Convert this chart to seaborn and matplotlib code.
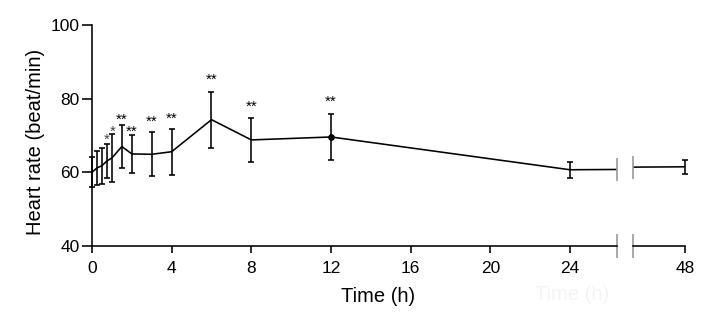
import numpy as np
import pandas as pd
import matplotlib
matplotlib.use("Agg")
import matplotlib.pyplot as plt
import seaborn as sns

# ---- data ----
time_h = [0, 0.25, 0.5, 0.75, 1, 1.5, 2, 3, 4, 6, 8, 12, 24, 48]
heart_rate = [60.0, 61.2, 61.8, 63.1, 63.9, 67.0, 65.0, 64.9, 65.6, 74.3, 68.8, 69.6, 60.7, 61.5]
heart_rate_sd = [4.1, 4.7, 4.9, 4.7, 6.6, 5.9, 5.1, 6.0, 6.3, 7.6, 5.9, 6.35, 2.2, 1.9]

star_time = [0.72, 1.04, 1.5, 2, 3, 4, 6, 8, 12]
star_label = ["*", "*", "**", "**", "**", "**", "**", "**", "**"]
star_level = [70.1, 72.3, 75.6, 72.3, 75.0, 75.8, 86.5, 79.0, 80.4]

x_ticks_left = [0, 4, 8, 12, 16, 20, 24]
x_ticks_right = [48]
y_ticks = [40, 60, 80, 100]

df = pd.DataFrame({"time": time_h, "hr": heart_rate, "sd": heart_rate_sd})

sns.set_style("ticks")
plt.rcParams["font.family"] = ["Liberation Sans", "DejaVu Sans"]

W, H = 718, 315
fig = plt.figure(figsize=(W / 100, H / 100), dpi=100)

px_per_h = (570 - 92) / 24.0
left_xmax = (617 - 92) / px_per_h
right_xmin = 48 - (685 - 633) / px_per_h

ax1 = fig.add_axes([92 / W, 1 - 246 / H, (617 - 92) / W, (246 - 25) / H])
ax2 = fig.add_axes([633 / W, 1 - 246 / H, (685 - 633) / W, (246 - 25) / H])

lw = 1.15
for ax, lo, hi in ((ax1, 0, left_xmax), (ax2, right_xmin, 48)):
    sns.lineplot(data=df, x="time", y="hr", ax=ax, color="black", linewidth=lw,
                 estimator=None, sort=True)
    sub = df[(df["time"] >= lo) & (df["time"] <= hi)]
    eb = ax.errorbar(sub["time"], sub["hr"], yerr=sub["sd"], fmt="none", ecolor="black",
                     elinewidth=lw, capsize=2, capthick=lw)
    for art in list(eb.lines[1]) + list(eb.lines[2]):
        art.set_clip_on(False)
    ax.set_ylim(40, 100)
    ax.set_xlim(lo, hi)
    ax.set_xlabel("")
    ax.set_ylabel("")
    ax.set_facecolor("white")

# filled marker at 12 h
idx12 = time_h.index(12)
ax1.plot([time_h[idx12]], [heart_rate[idx12]], marker="o", markersize=3.8,
         color="black", linestyle="none")

ax1.set_xticks(x_ticks_left)
ax1.set_yticks(y_ticks)
ax2.set_xticks(x_ticks_right)
ax2.set_yticks([])

for sp in ["top", "right"]:
    ax1.spines[sp].set_visible(False)
for sp in ["top", "right", "left"]:
    ax2.spines[sp].set_visible(False)
for ax in (ax1, ax2):
    for sp in ax.spines.values():
        sp.set_linewidth(lw)
        sp.set_color("black")
    ax.tick_params(axis="x", length=5.3, width=lw, pad=5.5, labelsize=12.5,
                   colors="black", direction="out")
ax1.tick_params(axis="y", length=7.4, width=lw, pad=1.5, labelsize=12.5,
                colors="black", direction="out")

# significance stars
for t, s, lv in zip(star_time, star_label, star_level):
    ax1.annotate(s, (t, lv), xytext=(0, -6.4), textcoords="offset points",
                 ha="center", va="baseline", fontsize=11,
                 color="#444444" if s == "*" else "black")

# axis break marks
d = 11.5 / ((246 - 25) / 60.0)
y_left_edge = np.interp(left_xmax, time_h, heart_rate)
y_right_edge = np.interp(right_xmin, time_h, heart_rate)
for ax, xe, ye in ((ax1, left_xmax, y_left_edge), (ax2, right_xmin, y_right_edge)):
    for yc in (40, ye):
        ax.plot([xe, xe], [yc - d, yc + d], color="#999999", linewidth=1.2,
                clip_on=False, solid_capstyle="butt")

ax1.set_ylabel("Heart rate (beat/min)", fontsize=14.5, color="black")
ax1.yaxis.set_label_coords((45.2 - 92) / 525, 0.47)
ax1.set_xlabel("Time (h)", fontsize=14.5, color="black")
ax1.xaxis.set_label_coords((378 - 92) / 525, (246 - 286.7) / 221)

# faint watermark-like ghost text
fig.text(572 / W, 1 - 295 / H, "Time (h)", fontsize=14.5, color="#f4f4f4",
         ha="center", va="center")

fig.savefig("out.png", dpi=100, facecolor="white")
